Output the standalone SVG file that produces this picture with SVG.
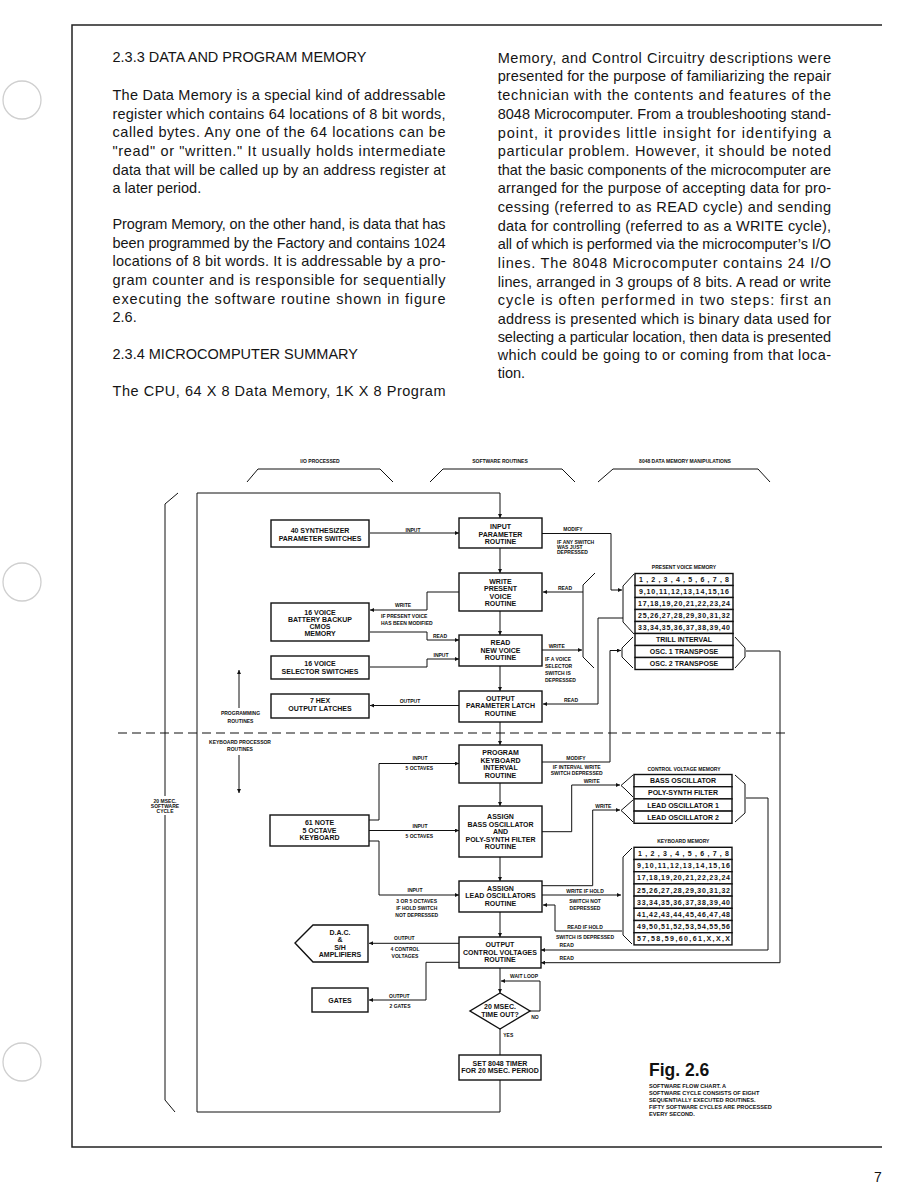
<svg xmlns="http://www.w3.org/2000/svg" width="918" height="1188" viewBox="0 0 918 1188">
<defs>
<marker id="ah" viewBox="0 0 10 10" refX="10" refY="5" markerWidth="6" markerHeight="4" markerUnits="userSpaceOnUse" orient="auto"><path d="M0,0 L10,5 L0,10 z" fill="#111"/></marker>
</defs>
<style>
.body{font-family:"Liberation Sans",Arial,sans-serif;font-size:14.5px;fill:#151515}
.bx{fill:#fff;stroke:#111;stroke-width:1.4}
.bt{font-family:"Liberation Sans",Arial,sans-serif;font-weight:bold;font-size:7px;fill:#111;text-anchor:middle}
.lb{font-family:"Liberation Sans",Arial,sans-serif;font-weight:bold;font-size:5px;fill:#111}
.lc{font-family:"Liberation Sans",Arial,sans-serif;font-weight:bold;font-size:5px;fill:#111;text-anchor:middle}
.tt{font-family:"Liberation Sans",Arial,sans-serif;font-weight:bold;font-size:7px;fill:#111}
.ttc{font-family:"Liberation Sans",Arial,sans-serif;font-weight:bold;font-size:7px;fill:#111;text-anchor:middle}
.ln{fill:none;stroke:#111;stroke-width:1}
.ar{fill:none;stroke:#111;stroke-width:1;marker-end:url(#ah)}
.br{fill:none;stroke:#111;stroke-width:1}
.row{fill:#fff;stroke:#111;stroke-width:1.4}
.cap{font-family:"Liberation Sans",Arial,sans-serif;font-weight:bold;font-size:5.6px;fill:#111}
</style>
<rect width="918" height="1188" fill="#fff"/>
<!-- page frame and binder holes -->
<path d="M882,25 H72 V1147 H882" fill="none" stroke="#222" stroke-width="1.5"/>
<circle cx="22" cy="100" r="19" fill="none" stroke="#cfcfcf" stroke-width="1.3"/>
<circle cx="22" cy="582" r="19" fill="none" stroke="#cfcfcf" stroke-width="1.3"/>
<circle cx="22" cy="1062" r="19" fill="none" stroke="#cfcfcf" stroke-width="1.3"/>

<!-- left column text -->
<g class="body">
<text x="112.5" y="62">2.3.3 DATA AND PROGRAM MEMORY</text>
<text x="112.5" y="100" textLength="333" lengthAdjust="spacing">The Data Memory is a special kind of addressable</text>
<text x="112.5" y="118.7" textLength="333" lengthAdjust="spacing">register which contains 64 locations of 8 bit words,</text>
<text x="112.5" y="137.3" textLength="333" lengthAdjust="spacing">called bytes.  Any one of the 64 locations can be</text>
<text x="112.5" y="156" textLength="333" lengthAdjust="spacing">"read" or "written."  It usually holds intermediate</text>
<text x="112.5" y="174.7" textLength="333" lengthAdjust="spacing">data that will be called up by an address register at</text>
<text x="112.5" y="192.7">a later period.</text>
<text x="112.5" y="229.3" textLength="333" lengthAdjust="spacing">Program Memory, on the other hand, is data that has</text>
<text x="112.5" y="247.7" textLength="333" lengthAdjust="spacing">been programmed by the Factory and contains 1024</text>
<text x="112.5" y="266" textLength="333" lengthAdjust="spacing">locations of 8 bit words.  It is addressable by a pro-</text>
<text x="112.5" y="285.3" textLength="333" lengthAdjust="spacing">gram counter and is responsible for sequentially</text>
<text x="112.5" y="303.7" textLength="333" lengthAdjust="spacing">executing the software routine shown in figure</text>
<text x="112.5" y="322">2.6.</text>
<text x="112.5" y="359.3">2.3.4 MICROCOMPUTER SUMMARY</text>
<text x="112.5" y="396" textLength="333" lengthAdjust="spacing">The CPU, 64 X 8 Data Memory, 1K X 8 Program</text>
</g>
<!-- right column text -->
<g class="body">
<text x="497.7" y="62.7" textLength="333.3" lengthAdjust="spacing">Memory, and Control Circuitry descriptions were</text>
<text x="497.7" y="81" textLength="333.3" lengthAdjust="spacing">presented for the purpose of familiarizing the repair</text>
<text x="497.7" y="100" textLength="333.3" lengthAdjust="spacing">technician with the contents and features of the</text>
<text x="497.7" y="118.7" textLength="333.3" lengthAdjust="spacing">8048 Microcomputer.  From a troubleshooting stand-</text>
<text x="497.7" y="137.7" textLength="333.3" lengthAdjust="spacing">point, it provides little insight for identifying a</text>
<text x="497.7" y="156" textLength="333.3" lengthAdjust="spacing">particular problem.  However, it should be noted</text>
<text x="497.7" y="175" textLength="333.3" lengthAdjust="spacing">that the basic components of the microcomputer are</text>
<text x="497.7" y="193.3" textLength="333.3" lengthAdjust="spacing">arranged for the purpose of accepting data for pro-</text>
<text x="497.7" y="212" textLength="333.3" lengthAdjust="spacing">cessing (referred to as READ cycle) and sending</text>
<text x="497.7" y="230.7" textLength="333.3" lengthAdjust="spacing">data for controlling (referred to as a WRITE cycle),</text>
<text x="497.7" y="249.3" textLength="333.3" lengthAdjust="spacing">all of which is performed via the microcomputer’s I/O</text>
<text x="497.7" y="267.7" textLength="333.3" lengthAdjust="spacing">lines.  The 8048 Microcomputer contains 24 I/O</text>
<text x="497.7" y="286.7" textLength="333.3" lengthAdjust="spacing">lines, arranged in 3 groups of 8 bits.  A read or write</text>
<text x="497.7" y="305" textLength="333.3" lengthAdjust="spacing">cycle is often performed in two steps:  first an</text>
<text x="497.7" y="323.7" textLength="333.3" lengthAdjust="spacing">address is presented which is binary data used for</text>
<text x="497.7" y="342" textLength="333.3" lengthAdjust="spacing">selecting a particular location, then data is presented</text>
<text x="497.7" y="360.3" textLength="333.3" lengthAdjust="spacing">which could be going to or coming from that loca-</text>
<text x="497.7" y="378.3">tion.</text>
</g>

<!-- headers and brackets -->
<g id="headers">
<text class="lc" x="320" y="462.5">I/O PROCESSED</text>
<text class="lc" x="500" y="462.5">SOFTWARE ROUTINES</text>
<text class="lc" x="685" y="462.5">8048 DATA MEMORY MANIPULATIONS</text>
<polyline class="br" points="247,482 258,469 380,469 393,482"/>
<polyline class="br" points="430,482 443,469 562,469 575,482"/>
<polyline class="br" points="598,482 613,469 758,469 770,482"/>
<polyline class="br" points="178,493 165,504 165,1100 175,1112"/>
<rect x="146" y="796" width="38" height="19" fill="#fff"/>
<text class="lc" x="165" y="802.8">20 MSEC.</text>
<text class="lc" x="165" y="808">SOFTWARE</text>
<text class="lc" x="165" y="813">CYCLE</text>
<text class="lc" x="240.5" y="715">PROGRAMMING</text>
<text class="lc" x="240.5" y="722.5">ROUTINES</text>
<text class="lc" x="240" y="744">KEYBOARD PROCESSOR</text>
<text class="lc" x="240" y="751">ROUTINES</text>
<path d="M118,733 H790" fill="none" stroke="#111" stroke-width="1.2" stroke-dasharray="9 5"/>
</g>

<!-- connectors -->
<g id="connectors">
<path class="ar" d="M500,1080 V1112 H197 V493 H500 V518"/>
<path class="ar" d="M370,533 H459"/>
<path class="ar" d="M500,548 V573"/>
<path class="ar" d="M500,611 V635"/>
<path class="ar" d="M500,666 V691"/>
<path class="ar" d="M500,722 V745"/>
<path class="ar" d="M500,783 V806"/>
<path class="ar" d="M500,857 V881"/>
<path class="ar" d="M500,912 V937"/>
<path class="ar" d="M500,968 V993"/>
<path class="ln" d="M500,1029 V1055"/>
<path class="ar" d="M530,1011 H540 V981 H501"/>
<path class="ar" d="M542,533.5 H611 V590 H622"/>
<path class="ar" d="M583,592 H543"/>
<path class="ar" d="M542,650 H582"/>
<polyline class="br" points="595,573 583,585 583,657 594,668"/>
<path class="ar" d="M623,618 H598 V704 H543"/>
<path class="ar" d="M459,592 H427 V610 H370"/>
<path class="ar" d="M370,632 H427 V640 H459"/>
<path class="ar" d="M370,667 H427 V659 H459"/>
<path class="ar" d="M459,705.5 H370"/>
<path class="ar" d="M239,708 V670"/>
<path class="ar" d="M239,755 V793"/>
<path class="ar" d="M369,820 H379 V763.5 H459"/>
<path class="ar" d="M369,830.5 H459"/>
<path class="ar" d="M369,841 H379 V895 H459"/>
<path class="ar" d="M542,762 H610 V650.5 H621"/>
<path class="ar" d="M542,831.7 H571.7 V785 H620"/>
<path class="ln" d="M542,885.7 H592.7" stroke-width="2.2"/>
<path class="ar" d="M592.7,885.7 V810 H620"/>
<path class="ar" d="M542,895 H621"/>
<path class="ar" d="M622,931 H555 V905 H543"/>
<path class="ar" d="M746,798 H768 V950 H541"/>
<path class="ar" d="M746,651 H780 V962.7 H541"/>
<path class="ar" d="M459,943.3 H369"/>
<path class="ar" d="M459,962.3 H426 V1000 H369"/>
<!-- connector labels -->
<text class="lc" x="413" y="531.5">INPUT</text>
<text class="lc" x="573" y="531">MODIFY</text>
<text class="lb" x="557" y="544">IF ANY SWITCH</text>
<text class="lb" x="557" y="548.8">WAS JUST</text>
<text class="lb" x="557" y="553.5">DEPRESSED</text>
<text class="lc" x="565" y="590">READ</text>
<text class="lc" x="403" y="606.5">WRITE</text>
<text class="lb" x="381" y="617.8">IF PRESENT VOICE</text>
<text class="lb" x="381" y="624.5">HAS BEEN MODIFIED</text>
<text class="lc" x="440" y="637.5">READ</text>
<text class="lc" x="556.7" y="647.5">WRITE</text>
<text class="lb" x="545" y="661">IF A VOICE</text>
<text class="lb" x="545" y="668">SELECTOR</text>
<text class="lb" x="545" y="675">SWITCH IS</text>
<text class="lb" x="545" y="681.8">DEPRESSED</text>
<text class="lc" x="441" y="657">INPUT</text>
<text class="lc" x="410" y="702.5">OUTPUT</text>
<text class="lc" x="571" y="702">READ</text>
<text class="lc" x="420" y="760">INPUT</text>
<text class="lc" x="419.3" y="770">5 OCTAVES</text>
<text class="lc" x="576" y="759.5">MODIFY</text>
<text class="lc" x="576.7" y="768.5">IF INTERVAL WRITE</text>
<text class="lc" x="576.7" y="775">SWITCH DEPRESSED</text>
<text class="lc" x="591.7" y="782.5">WRITE</text>
<text class="lc" x="603.3" y="807.5">WRITE</text>
<text class="lc" x="420" y="827.5">INPUT</text>
<text class="lc" x="419.3" y="837.5">5 OCTAVES</text>
<text class="lc" x="415" y="891.8">INPUT</text>
<text class="lc" x="416.7" y="903">3 OR 5 OCTAVES</text>
<text class="lc" x="416.7" y="909.8">IF HOLD SWITCH</text>
<text class="lc" x="416.7" y="916.5">NOT DEPRESSED</text>
<text class="lc" x="585" y="892.5">WRITE IF HOLD</text>
<text class="lc" x="585" y="902.5">SWITCH NOT</text>
<text class="lc" x="585" y="909.5">DEPRESSED</text>
<text class="lc" x="585" y="929">READ IF HOLD</text>
<text class="lc" x="585" y="939">SWITCH IS DEPRESSED</text>
<text class="lc" x="566.7" y="947">READ</text>
<text class="lc" x="566.7" y="960">READ</text>
<text class="lc" x="404.3" y="939.5">OUTPUT</text>
<text class="lc" x="405" y="951">4 CONTROL</text>
<text class="lc" x="405" y="957.8">VOLTAGES</text>
<text class="lc" x="399.3" y="997.5">OUTPUT</text>
<text class="lc" x="400" y="1007.5">2 GATES</text>
<text class="lc" x="524" y="977.5">WAIT LOOP</text>
<text class="lc" x="535" y="1018.5">NO</text>
<text class="lc" x="508.3" y="1037">YES</text>
</g>

<!-- main routine nodes -->
<g id="n-input-param"><rect class="bx" x="459" y="518" width="83" height="30"/><text class="bt" x="500.5" y="529">INPUT</text><text class="bt" x="500.5" y="536.5">PARAMETER</text><text class="bt" x="500.5" y="544">ROUTINE</text></g>
<g id="n-write-pv"><rect class="bx" x="459" y="573" width="83" height="38"/><text class="bt" x="500.5" y="583.5">WRITE</text><text class="bt" x="500.5" y="591">PRESENT</text><text class="bt" x="500.5" y="598.5">VOICE</text><text class="bt" x="500.5" y="606">ROUTINE</text></g>
<g id="n-read-nv"><rect class="bx" x="459" y="635" width="83" height="31"/><text class="bt" x="500.5" y="645">READ</text><text class="bt" x="500.5" y="652.5">NEW VOICE</text><text class="bt" x="500.5" y="660">ROUTINE</text></g>
<g id="n-out-pl"><rect class="bx" x="459" y="691" width="83" height="31"/><text class="bt" x="500.5" y="700.8">OUTPUT</text><text class="bt" x="500.5" y="708.3">PARAMETER LATCH</text><text class="bt" x="500.5" y="715.8">ROUTINE</text></g>
<g id="n-prog-kb"><rect class="bx" x="459" y="745" width="83" height="38"/><text class="bt" x="500.5" y="755">PROGRAM</text><text class="bt" x="500.5" y="762.5">KEYBOARD</text><text class="bt" x="500.5" y="770">INTERVAL</text><text class="bt" x="500.5" y="777.5">ROUTINE</text></g>
<g id="n-assign-bass"><rect class="bx" x="459" y="806" width="83" height="51"/><text class="bt" x="500.5" y="819">ASSIGN</text><text class="bt" x="500.5" y="826.5">BASS OSCILLATOR</text><text class="bt" x="500.5" y="834">AND</text><text class="bt" x="500.5" y="841.5">POLY-SYNTH FILTER</text><text class="bt" x="500.5" y="849">ROUTINE</text></g>
<g id="n-assign-lead"><rect class="bx" x="459" y="881" width="83" height="31"/><text class="bt" x="500.5" y="890.5">ASSIGN</text><text class="bt" x="500.5" y="898">LEAD OSCILLATORS</text><text class="bt" x="500.5" y="905.5">ROUTINE</text></g>
<g id="n-out-cv"><rect class="bx" x="459" y="937" width="82" height="31"/><text class="bt" x="500" y="947">OUTPUT</text><text class="bt" x="500" y="954.5">CONTROL VOLTAGES</text><text class="bt" x="500" y="962">ROUTINE</text></g>
<g id="n-timeout"><polygon class="bx" points="500,993 530,1011 500,1029 470,1011"/><text class="bt" x="500" y="1008.5">20 MSEC.</text><text class="bt" x="500" y="1016.5">TIME OUT?</text></g>
<g id="n-set-timer"><rect class="bx" x="459" y="1055" width="82" height="25"/><text class="bt" x="500" y="1065.5">SET 8048 TIMER</text><text class="bt" x="500" y="1073">FOR 20 MSEC. PERIOD</text></g>

<!-- I/O nodes -->
<g id="n-synth-sw"><rect class="bx" x="271" y="520" width="98" height="27"/><text class="bt" x="320" y="533">40 SYNTHESIZER</text><text class="bt" x="320" y="540.5">PARAMETER SWITCHES</text></g>
<g id="n-battery"><rect class="bx" x="271" y="603" width="98" height="38"/><text class="bt" x="320" y="614.5">16 VOICE</text><text class="bt" x="320" y="621.8">BATTERY BACKUP</text><text class="bt" x="320" y="629">CMOS</text><text class="bt" x="320" y="636.3">MEMORY</text></g>
<g id="n-selector"><rect class="bx" x="271" y="656" width="98" height="23"/><text class="bt" x="320" y="666.3">16 VOICE</text><text class="bt" x="320" y="673.5">SELECTOR SWITCHES</text></g>
<g id="n-hex"><rect class="bx" x="271" y="694" width="98" height="24"/><text class="bt" x="320" y="703.3">7 HEX</text><text class="bt" x="320" y="711.3">OUTPUT LATCHES</text></g>
<g id="n-keyboard"><rect class="bx" x="270" y="815" width="99" height="31"/><text class="bt" x="319.5" y="825">61 NOTE</text><text class="bt" x="319.5" y="832.5">5 OCTAVE</text><text class="bt" x="319.5" y="840">KEYBOARD</text></g>
<g id="n-dac"><polygon class="bx" points="295,943 313,925 368,925 368,962 313,962"/><text class="bt" x="340" y="935">D.A.C.</text><text class="bt" x="340" y="941.7">&amp;</text><text class="bt" x="340" y="949.5">S/H</text><text class="bt" x="340" y="956.7">AMPLIFIERS</text></g>
<g id="n-gates"><rect class="bx" x="312" y="988" width="56" height="24"/><text class="bt" x="340" y="1002.5">GATES</text></g>

<!-- memories -->
<g id="n-pv-memory">
<text class="lc" x="684" y="568.5">PRESENT VOICE MEMORY</text>
<rect class="row" x="635" y="573.5" width="98" height="12"/>
<rect class="row" x="635" y="585.5" width="98" height="12"/>
<rect class="row" x="635" y="597.5" width="98" height="12"/>
<rect class="row" x="635" y="609.5" width="98" height="12"/>
<rect class="row" x="635" y="621.5" width="98" height="12"/>
<rect class="row" x="635" y="633.5" width="98" height="12"/>
<rect class="row" x="635" y="645.5" width="98" height="12"/>
<rect class="row" x="635" y="657.5" width="98" height="12"/>
<text class="tt" x="639" y="582" textLength="90" lengthAdjust="spacing">1,2,3,4,5,6,7,8</text>
<text class="tt" x="639" y="594" textLength="90" lengthAdjust="spacing">9,10,11,12,13,14,15,16</text>
<text class="tt" x="638" y="606" textLength="92" lengthAdjust="spacing">17,18,19,20,21,22,23,24</text>
<text class="tt" x="638" y="618" textLength="92" lengthAdjust="spacing">25,26,27,28,29,30,31,32</text>
<text class="tt" x="638" y="630" textLength="92" lengthAdjust="spacing">33,34,35,36,37,38,39,40</text>
<text class="ttc" x="684" y="642">TRILL INTERVAL</text>
<text class="ttc" x="684" y="654">OSC. 1 TRANSPOSE</text>
<text class="ttc" x="684" y="666">OSC. 2 TRANSPOSE</text>
<polyline class="br" points="634,574 623,586 623,622 634,634"/>
<polyline class="br" points="633,637 622,648 622,657 633,668"/>
<polyline class="br" points="735,637 745,648 745,657 735,668"/>
</g>
<g id="n-cv-memory">
<text class="lc" x="684" y="770.5">CONTROL VOLTAGE MEMORY</text>
<rect class="row" x="634" y="774.5" width="98" height="12.2"/>
<rect class="row" x="634" y="786.7" width="98" height="12.2"/>
<rect class="row" x="634" y="798.9" width="98" height="12.2"/>
<rect class="row" x="634" y="811.1" width="98" height="12.2"/>
<text class="ttc" x="683" y="783.2">BASS OSCILLATOR</text>
<text class="ttc" x="683" y="795.4">POLY-SYNTH FILTER</text>
<text class="ttc" x="683" y="807.6">LEAD OSCILLATOR 1</text>
<text class="ttc" x="683" y="819.8">LEAD OSCILLATOR 2</text>
<polyline class="br" points="633,775 625,782 621,785.5 625,789 633,797"/>
<polyline class="br" points="633,800 625,807 621,810.5 625,814 633,822"/>
<polyline class="br" points="735,775 745,784 745,813 735,822"/>
</g>
<g id="n-kb-memory">
<text class="lc" x="683.3" y="843">KEYBOARD MEMORY</text>
<rect class="row" x="634" y="847.3" width="98" height="12.2"/>
<rect class="row" x="634" y="859.5" width="98" height="12.2"/>
<rect class="row" x="634" y="871.7" width="98" height="12.2"/>
<rect class="row" x="634" y="883.9" width="98" height="12.2"/>
<rect class="row" x="634" y="896.1" width="98" height="12.2"/>
<rect class="row" x="634" y="908.3" width="98" height="12.2"/>
<rect class="row" x="634" y="920.5" width="98" height="12.2"/>
<rect class="row" x="634" y="932.7" width="98" height="12.2"/>
<text class="tt" x="638" y="856" textLength="91" lengthAdjust="spacing">1,2,3,4,5,6,7,8</text>
<text class="tt" x="637" y="868.2" textLength="93" lengthAdjust="spacing">9,10,11,12,13,14,15,16</text>
<text class="tt" x="637" y="880.4" textLength="93" lengthAdjust="spacing">17,18,19,20,21,22,23,24</text>
<text class="tt" x="637" y="892.6" textLength="93" lengthAdjust="spacing">25,26,27,28,29,30,31,32</text>
<text class="tt" x="637" y="904.8" textLength="93" lengthAdjust="spacing">33,34,35,36,37,38,39,40</text>
<text class="tt" x="637" y="917" textLength="93" lengthAdjust="spacing">41,42,43,44,45,46,47,48</text>
<text class="tt" x="637" y="929.2" textLength="93" lengthAdjust="spacing">49,50,51,52,53,54,55,56</text>
<text class="tt" x="637" y="941.4" textLength="93" lengthAdjust="spacing">57,58,59,60,61,X,X,X</text>
<polyline class="br" points="632,848 623,857 623,935 632,944"/>
</g>

<!-- figure caption -->
<g id="caption">
<text x="649" y="1076" font-family="Liberation Sans, Arial, sans-serif" font-weight="bold" font-size="17.5" fill="#111">Fig. 2.6</text>
<text class="cap" x="649" y="1087.5">SOFTWARE FLOW CHART.  A</text>
<text class="cap" x="649" y="1095">SOFTWARE CYCLE CONSISTS OF EIGHT</text>
<text class="cap" x="649" y="1102">SEQUENTIALLY EXECUTED ROUTINES.</text>
<text class="cap" x="649" y="1109">FIFTY SOFTWARE CYCLES ARE PROCESSED</text>
<text class="cap" x="649" y="1116">EVERY SECOND.</text>
</g>
<text x="878" y="1182" font-family="Liberation Sans, Arial, sans-serif" font-size="14" fill="#111" text-anchor="middle">7</text>
</svg>
